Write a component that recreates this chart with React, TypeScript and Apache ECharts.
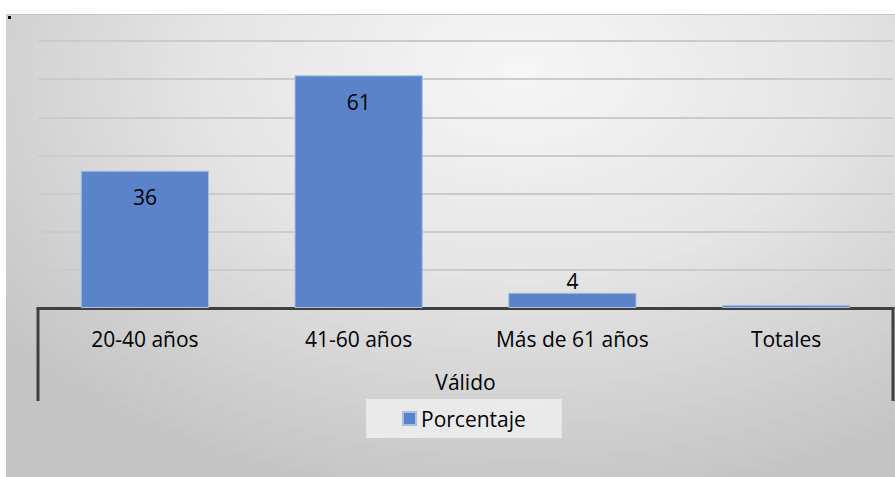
import React, { useEffect, useRef } from "react";
import * as echarts from "echarts";

const categories = ["20-40 años", "41-60 años", "Más de 61 años", "Totales"];
const porcentaje = [36, 61, 4, 0.8];
const groupLabel = "Válido";
const seriesName = "Porcentaje";

const FONT = "'Open Sans', 'Noto Sans', sans-serif";
const FS = 21;

export default function App() {
  const ref = useRef<HTMLDivElement>(null);
  useEffect(() => {
    if (!ref.current) return;
    const chart = echarts.init(ref.current, undefined, { renderer: "svg" });
    const gridLeft = 38;
    const gridRight = 2;
    const gridBottom = 169;
    const H = 477;
    const W = 895;
    const axisY = H - gridBottom;
    chart.setOption({
      animation: false,
      backgroundColor: "transparent",
      textStyle: { fontFamily: FONT },
      grid: { left: gridLeft, right: gridRight, top: 41, bottom: gridBottom },
      legend: {
        data: [seriesName],
        left: 366,
        top: 399,
        padding: [9, 36, 9, 36],
        backgroundColor: "rgba(238,238,238,0.85)",
        icon: "rect",
        itemWidth: 13,
        itemHeight: 13,
        itemGap: 6,
        textStyle: { fontFamily: FONT, fontSize: FS, color: "#000" },
      },
      xAxis: {
        type: "category",
        data: categories,
        name: groupLabel,
        nameLocation: "middle",
        nameGap: 63,
        nameTextStyle: { fontFamily: FONT, fontSize: FS, color: "#000" },
        axisLine: { show: true, lineStyle: { color: "#404040", width: 3 } },
        axisTick: { show: false },
        axisLabel: { margin: 20, fontFamily: FONT, fontSize: FS, color: "#000" },
      },
      yAxis: {
        type: "value",
        min: 0,
        max: 70,
        interval: 10,
        axisLabel: { show: false },
        axisLine: { show: false },
        axisTick: { show: false },
        splitLine: { show: true, lineStyle: { color: "#cbcbcb", width: 2 } },
      },
      graphic: [
        {
          type: "line",
          z: 10,
          shape: { x1: gridLeft, y1: axisY - 1, x2: gridLeft, y2: 401 },
          style: { stroke: "#404040", lineWidth: 3 },
        },
        {
          type: "line",
          z: 10,
          shape: { x1: W - gridRight, y1: axisY - 1, x2: W - gridRight, y2: 401 },
          style: { stroke: "#404040", lineWidth: 3 },
        },
      ],
      series: [
        {
          name: seriesName,
          type: "bar",
          barCategoryGap: "40%",
          itemStyle: { color: "#5b83ca", borderColor: "#a9bfe6", borderWidth: 1 },
          data: porcentaje.map((v) => ({
            value: v,
            label: {
              show: v >= 1,
              position: v >= 10 ? "insideTop" : "top",
              distance: v >= 10 ? 16 : 1,
              fontFamily: FONT,
              fontSize: FS,
              color: "#000",
            },
          })),
        },
      ],
    });
    return () => chart.dispose();
  }, []);

  return (
    <div style={{ position: "fixed", left: 0, top: 0, width: 895, height: 477, background: "#fff" }}>
      <div
        style={{
          position: "absolute",
          left: 6,
          top: 14,
          width: 889,
          height: 463,
          boxSizing: "border-box",
          borderTop: "1px solid #c4c4c4",
          background:
            "radial-gradient(ellipse 75% 95% at 58% 12%, #f6f6f6 0%, #e6e6e6 45%, #cdcdcd 85%, #c4c4c4 100%)",
        }}
      />
      <div style={{ position: "absolute", left: 8, top: 16, width: 3, height: 3, background: "#000" }} />
      <div ref={ref} style={{ position: "absolute", left: 0, top: 0, width: 895, height: 477 }} />
    </div>
  );
}
